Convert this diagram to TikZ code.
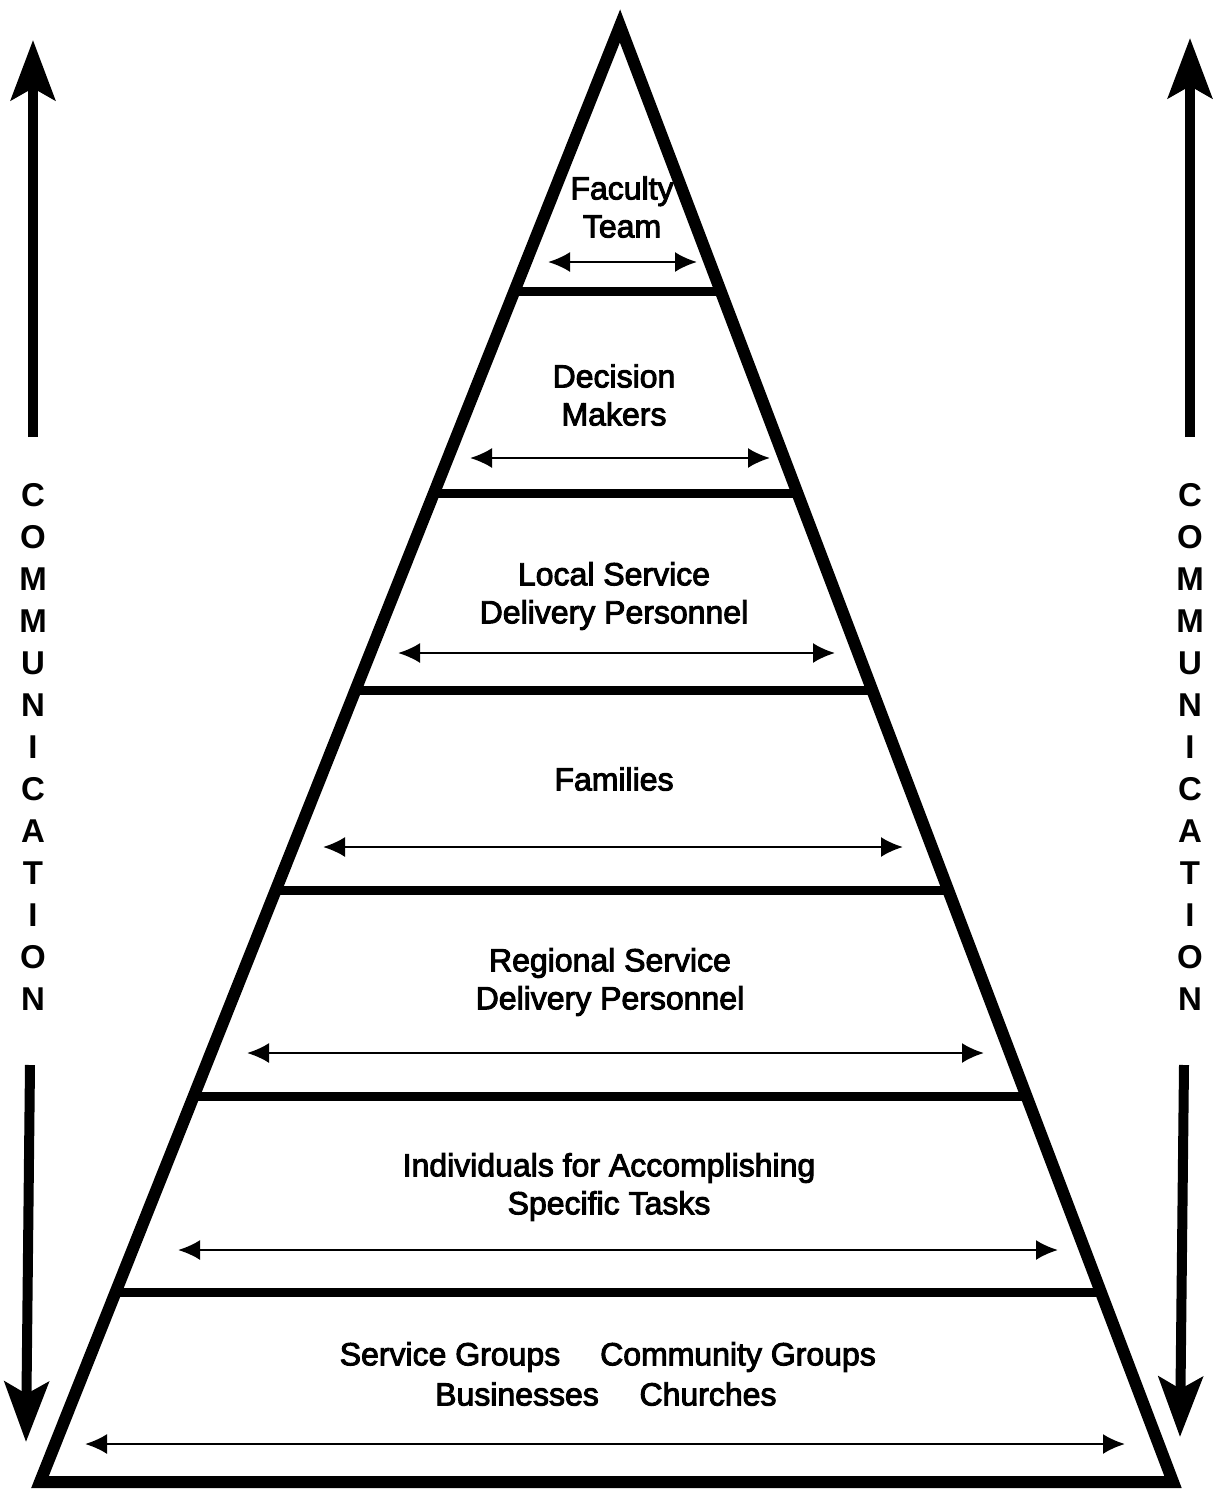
\documentclass[tikz,border=0pt]{standalone}
\usepackage{fontspec}
\setmainfont{Liberation Sans}
\newfontfamily\lblfont{Liberation Sans}[FakeBold=3]
\usetikzlibrary{calc,arrows.meta}
\begin{document}
\begin{tikzpicture}[x=1pt,y=-1pt,
  outline/.style={line width=12pt,line join=miter},
  divider/.style={line width=9pt},
  bigarrow/.style={line width=10pt,-{Stealth[length=60pt,width=44pt,inset=12pt]}},
  span/.style={line width=2.5pt,{Latex[length=22pt,width=20pt]}-{Latex[length=22pt,width=20pt]}},
  lbl/.style={font=\lblfont\fontsize{32}{38}\selectfont,align=center,inner sep=0pt},
  comm/.style={font=\fontsize{33}{42}\selectfont\bfseries,align=center,inner sep=0pt}]
\useasboundingbox (0,0) rectangle (1215,1491);
% pyramid
\coordinate (apex) at (620,26);
\coordinate (bl) at (40,1482);
\coordinate (br) at (1173,1482);
\draw[outline] (apex) -- (bl) -- (br) -- cycle;
\foreach \yy in {292,493,690,890,1097,1293}
  \draw[divider] ($(apex)!{(\yy-26)/1456}!(bl)$) -- ($(apex)!{(\yy-26)/1456}!(br)$);
% labels
\node[lbl] (faculty) at (622,207) {Faculty\\Team};
\node[lbl] (decision) at (614,395) {Decision\\Makers};
\node[lbl] (local) at (614,596) {Local Service\\Delivery Personnel};
\node[lbl] (families) at (614,779) {Families};
\node[lbl] (regional) at (610,982) {Regional Service\\Delivery Personnel};
\node[lbl] (indiv) at (609,1187) {Individuals for Accomplishing\\Specific Tasks};
\node[lbl] (servgr) at (450,1357) {Service Groups};
\node[lbl] (commgr) at (738,1357) {Community Groups};
\node[lbl] (busin) at (517,1394) {Businesses};
\node[lbl] (church) at (708,1394) {Churches};
% span arrows
\coordinate (a1l) at (548,262);  \coordinate (a1r) at (697,262);
\coordinate (a2l) at (470,458);  \coordinate (a2r) at (770,458);
\coordinate (a3l) at (398,653);  \coordinate (a3r) at (835,653);
\coordinate (a4l) at (323,847);  \coordinate (a4r) at (903,847);
\coordinate (a5l) at (247,1053); \coordinate (a5r) at (984,1053);
\coordinate (a6l) at (178,1250); \coordinate (a6r) at (1058,1250);
\coordinate (a7l) at (85,1444);  \coordinate (a7r) at (1125,1444);
\foreach \i in {1,...,7} \draw[span] (a\i l) -- (a\i r);
% communication arrows
\coordinate (lus) at (33,437);  \coordinate (lue) at (33,40);
\coordinate (lds) at (30,1065); \coordinate (lde) at (26,1442);
\coordinate (rus) at (1190,437); \coordinate (rue) at (1190,38);
\coordinate (rds) at (1184,1065); \coordinate (rde) at (1180,1437);
\draw[bigarrow] (lus) -- (lue);
\draw[bigarrow] (lds) -- (lde);
\draw[bigarrow] (rus) -- (rue);
\draw[bigarrow] (rds) -- (rde);
\node[comm] (commL) at (33,747) {C\\O\\M\\M\\U\\N\\I\\C\\A\\T\\I\\O\\N};
\node[comm] (commR) at (1190,747) {C\\O\\M\\M\\U\\N\\I\\C\\A\\T\\I\\O\\N};
\end{tikzpicture}
\end{document}
